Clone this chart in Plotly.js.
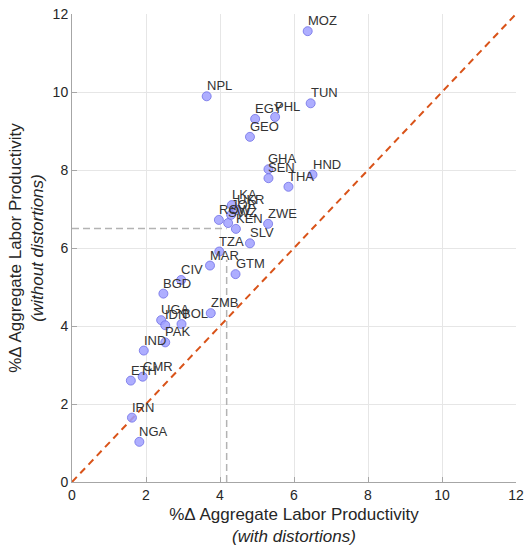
<!DOCTYPE html>
<html>
<head>
<meta charset="utf-8">
<script src="https://cdn.plot.ly/plotly-3.0.1.min.js"></script>
<style>html,body{margin:0;padding:0;background:#fff;}#chart{width:529px;height:546px;}</style>
</head>
<body>
<div id="chart"></div>
<script>
const countries = ["MOZ","NPL","TUN","EGY","PHL","GEO","GHA","SEN","THA","HND","LKA","UKR","ROW","SWZ","JOR","KEN","ZWE","SLV","TZA","MAR","GTM","CIV","BGD","ZMB","UGA","IDN","BOL","PAK","IND","CMR","ETH","IRN","NGA"];
const withDist = [6.37,3.64,6.45,4.95,5.49,4.81,5.31,5.31,5.85,6.50,4.32,4.45,3.97,4.22,4.30,4.43,5.30,4.81,3.98,3.73,4.42,2.95,2.47,3.75,2.41,2.52,2.96,2.52,1.94,1.91,1.59,1.62,1.82];
const withoutDist = [11.56,9.89,9.71,9.31,9.36,8.85,8.02,7.79,7.57,7.88,7.10,6.98,6.72,6.64,6.85,6.49,6.62,6.12,5.91,5.55,5.33,5.18,4.83,4.33,4.15,4.02,4.05,3.58,3.37,2.70,2.60,1.65,1.03];
const diagX = [0, 12];
const diagY = [0, 12];
const refX = 4.18, refY = 6.5, refTop = 5.7;

const FONT = 'Liberation Sans, Arial, sans-serif';

const traces = [
  {x: diagX, y: diagY, mode: 'lines', line: {color: '#D95319', width: 2, dash: '7px,5px'}, hoverinfo: 'skip'},
  {x: [0, refX], y: [refY, refY], mode: 'lines', line: {color: '#b3b3b3', width: 1.5, dash: '7px,4px'}, hoverinfo: 'skip'},
  {x: [refX, refX], y: [0, refTop], mode: 'lines', line: {color: '#b3b3b3', width: 1.5, dash: '7px,4px'}, hoverinfo: 'skip'},
  {x: withDist, y: withoutDist, mode: 'markers',
   marker: {size: 9, color: 'rgba(160,160,255,0.85)', line: {color: '#7070e6', width: 0.8}}}
];

const annotations = countries.map((c, i) => ({
  x: withDist[i], y: withoutDist[i], text: c, xref: 'x', yref: 'y',
  xanchor: 'left', yanchor: 'bottom', xshift: -2, yshift: 1, showarrow: false,
  font: {family: FONT, size: 13, color: '#333333'}
}));

const axisCommon = {
  range: [0, 12], dtick: 2, tick0: 0,
  showgrid: true, gridcolor: '#e6e6e6', gridwidth: 1,
  zeroline: false, showline: true, linecolor: '#a6a6a6', linewidth: 1,
  ticks: 'inside', ticklen: 5, tickcolor: '#a6a6a6',
  tickfont: {family: FONT, size: 14, color: '#262626'},
  fixedrange: true
};

const layout = {
  width: 529, height: 546,
  margin: {l: 72, r: 13, t: 14, b: 64},
  paper_bgcolor: '#ffffff', plot_bgcolor: '#ffffff',
  showlegend: false,
  annotations: annotations,
  xaxis: Object.assign({}, axisCommon, {
    title: {text: '%\u0394 Aggregate Labor Productivity<br><i>(with distortions)</i>',
      font: {family: FONT, size: 17, color: '#262626'}, standoff: 11}
  }),
  yaxis: Object.assign({}, axisCommon, {
    title: {text: '%\u0394 Aggregate Labor Productivity<br><i>(without distortions)</i>',
      font: {family: FONT, size: 17, color: '#262626'}, standoff: 4}
  })
};

Plotly.newPlot('chart', traces, layout, {displayModeBar: false, staticPlot: true});
</script>
</body>
</html>
